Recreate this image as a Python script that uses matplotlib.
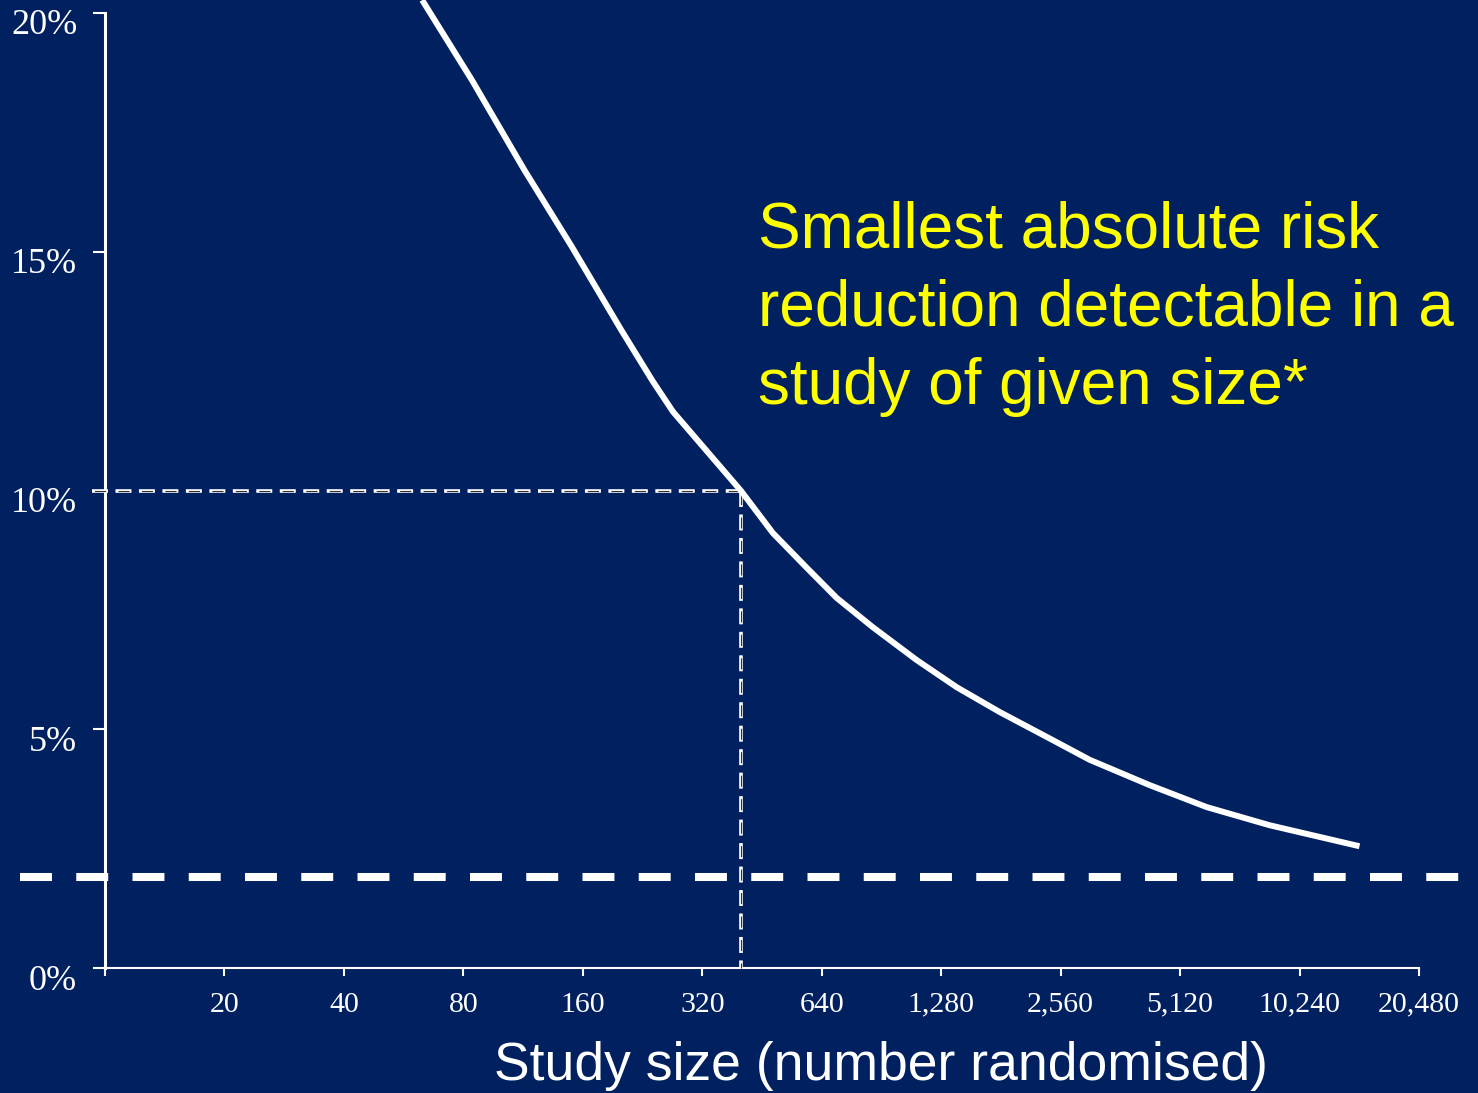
import numpy as np
import matplotlib
matplotlib.use('Agg')
import matplotlib.pyplot as plt
import matplotlib.transforms as mtransforms

#--------------------------------------------------#
# Curve: study size vs smallest detectable risk reduction (%)
study_size = [63, 84, 114, 150, 200, 240, 270, 400, 482, 587, 698, 860, 1110,
              1401, 1798, 2361, 3030, 4290, 5973, 8605, 14500]
risk_reduction = [20.27, 18.60, 16.71, 15.11, 13.36, 12.29, 11.65, 10.0, 9.11, 8.38,
                  7.75, 7.14, 6.45, 5.88, 5.36, 4.84, 4.36, 3.83, 3.37, 2.99, 2.55]

ref_size = 400     # study size picked out by the dotted guide lines
ref_pct = 10       # matching risk reduction (%)
floor_pct = 1.9    # thick dashed horizontal line

xticks = [10, 20, 40, 80, 160, 320, 640, 1280, 2560, 5120, 10240, 20480]
xticklabels = ['', '20', '40', '80', '160', '320', '640', '1,280', '2,560',
               '5,120', '10,240', '20,480']
yticks = [0, 5, 10, 15, 20]
yticklabels = ['0%', '5%', '10%', '15%', '20%']

xlabel = 'Study size (number randomised)'
note = 'Smallest absolute risk\nreduction detectable in a\nstudy of given size*'
#--------------------------------------------------#

bg = '#00205F'
plt.rcParams['lines.scale_dashes'] = False

fig = plt.figure(figsize=(14.78, 10.93), dpi=100, facecolor=bg)
ax = fig.add_axes([105/1478, 1 - 968/1093, 1314/1478, 955/1093])
ax.set_facecolor(bg)

ax.set_xscale('log', base=2)
ax.set_xlim(10, 20480)
ax.set_ylim(0, 20)

# main curve
ax.plot(study_size, risk_reduction, color='white', lw=4.3, clip_on=False,
        solid_capstyle='butt', solid_joinstyle='round', zorder=5)

# thick dashed line spanning the whole slide width
trans = mtransforms.blended_transform_factory(ax.transAxes, ax.transData)
ax.plot([-0.065, 1.06], [floor_pct, floor_pct], transform=trans, color='white',
        lw=5.8, linestyle=(0, (23, 17.5)), clip_on=False,
        dash_capstyle='butt', zorder=4)

# outlined dotted guide lines to the reference point
guide_x = [[9.3, ref_size], [ref_size, ref_size]]
guide_y = [[ref_pct, ref_pct], [ref_pct, 0]]
for gx, gy in zip(guide_x, guide_y):
    ax.plot(gx, gy, color='white', lw=2.6, linestyle=(0, (11.5, 5.4)),
            dash_capstyle='butt', clip_on=False, zorder=3)
    ax.plot(gx, gy, color='#303030', lw=0.8, linestyle=(15.1, (8.0, 8.9)),
            dash_capstyle='butt', clip_on=False, zorder=3)

# axes styling
for side in ['top', 'right']:
    ax.spines[side].set_visible(False)
ax.spines['left'].set_color('white')
ax.spines['left'].set_linewidth(2.2)
ax.spines['bottom'].set_color('white')
ax.spines['bottom'].set_linewidth(1.5)

ax.set_xticks(xticks)
ax.set_xticklabels(xticklabels)
ax.xaxis.set_minor_locator(matplotlib.ticker.NullLocator())
ax.set_yticks(yticks)
ax.set_yticklabels(yticklabels)

ax.tick_params(axis='x', colors='white', length=6, width=1.5, pad=11,
               labelsize=21.5)
ax.tick_params(axis='y', colors='white', length=9, width=1.5, pad=11,
               labelsize=26)
for lab in ax.get_xticklabels() + ax.get_yticklabels():
    lab.set_fontfamily('Liberation Serif')
offset = mtransforms.ScaledTranslation(0, -9/100, fig.dpi_scale_trans)
for lab in ax.get_yticklabels():
    lab.set_transform(lab.get_transform() + offset)

ax.set_xlabel(xlabel, color='white', fontsize=38.5, family='Liberation Sans',
              va='center')
ax.xaxis.set_label_coords(0.5906, -0.103)

fig.text(758/1478, 1 - 201/1093, note, color='#FFFF00', fontsize=46,
         family='Liberation Sans', va='top', ha='left', linespacing=1.38)

fig.savefig('out.png', dpi=100, facecolor=bg)
